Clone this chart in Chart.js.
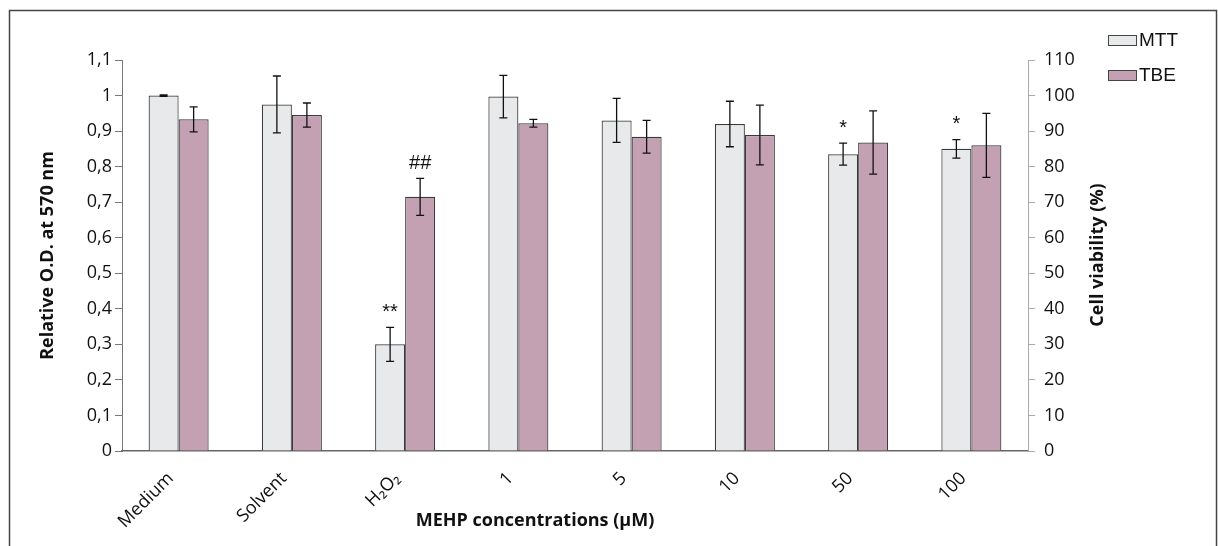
<!DOCTYPE html>
<html>
<head>
<meta charset="utf-8">
<title>MEHP concentrations</title>
<script src="https://cdn.jsdelivr.net/npm/chart.js@4.4.1/dist/chart.umd.min.js"></script>
<style>
    html, body { margin: 0; padding: 0; background: #fff; }
    #wrap { position: relative; width: 1218px; height: 546px; }
</style>
</head>
<body>
<div id="wrap"><canvas id="chart"></canvas></div>
<script>
const categories = ['Medium', 'Solvent', 'H₂O₂', '1', '5', '10', '50', '100'];

const mttValues = [1.0, 0.975, 0.30, 0.997, 0.93, 0.92, 0.835, 0.85];
const mttErrors = [0.002, 0.08, 0.048, 0.06, 0.062, 0.064, 0.031, 0.026];
const mttMarks = ['', '', '**', '', '', '', '*', '*'];

const tbeValues = [0.933, 0.945, 0.715, 0.922, 0.884, 0.889, 0.868, 0.86];
const tbeErrors = [0.035, 0.034, 0.052, 0.011, 0.046, 0.084, 0.089, 0.09];
const tbeMarks = ['', '', '##', '', '', '', '', ''];

const leftTicks = ['0', '0,1', '0,2', '0,3', '0,4', '0,5', '0,6', '0,7', '0,8', '0,9', '1', '1,1'];
const rightTicks = ['0', '10', '20', '30', '40', '50', '60', '70', '80', '90', '100', '110'];

const xTitle = 'MEHP concentrations (µM)';
const rightTitle = 'Cell viability (%)';

Chart.defaults.font.family = "'Open Sans', 'Noto Sans', sans-serif";
Chart.defaults.color = '#111';

// outer frame of the figure
const framePlugin = {
    id: 'frame',
    beforeDraw(chart) {
        const ctx = chart.ctx;
        ctx.save();
        ctx.strokeStyle = '#444';
        ctx.lineWidth = 1.5;
        ctx.strokeRect(9.5, 10.5, 1207, 600);
        ctx.restore();
    }
};

// error bars and significance marks on top of the bars
const errorBarPlugin = {
    id: 'errorBars',
    afterDatasetsDraw(chart) {
        const ctx = chart.ctx;
        const yScale = chart.scales.y;
        ctx.save();
        chart.data.datasets.forEach((ds, d) => {
            const meta = chart.getDatasetMeta(d);
            meta.data.forEach((bar, i) => {
                const v = ds.data[i];
                const e = ds.errors[i];
                const top = yScale.getPixelForValue(v + e);
                const bot = yScale.getPixelForValue(v - e);
                ctx.strokeStyle = '#111';
                ctx.lineWidth = 1.3;
                ctx.beginPath();
                ctx.moveTo(bar.x, top);
                ctx.lineTo(bar.x, bot);
                ctx.moveTo(bar.x - 4, top);
                ctx.lineTo(bar.x + 4, top);
                ctx.moveTo(bar.x - 4, bot);
                ctx.lineTo(bar.x + 4, bot);
                ctx.stroke();
                if (ds.marks[i]) {
                    ctx.fillStyle = '#111';
                    ctx.font = "20px 'Liberation Sans', sans-serif";
                    ctx.textAlign = 'center';
                    ctx.textBaseline = 'bottom';
                    ctx.fillText(ds.marks[i], bar.x, top - 5);
                }
            });
        });
        ctx.restore();
    }
};

// legend in the top right corner, plus the x and right axis titles
const extrasPlugin = {
    id: 'extras',
    afterDraw(chart) {
        const ctx = chart.ctx;
        ctx.save();
        chart.data.datasets.forEach((ds, d) => {
            const y = 35 + d * 35;
            ctx.fillStyle = ds.backgroundColor;
            ctx.fillRect(1108, y, 28, 10);
            ctx.strokeStyle = '#444';
            ctx.lineWidth = 1;
            ctx.strokeRect(1108.5, y + 0.5, 28, 10);
            ctx.fillStyle = '#111';
            ctx.font = "19px 'Liberation Sans', sans-serif";
            ctx.textAlign = 'left';
            ctx.textBaseline = 'middle';
            ctx.fillText(ds.label, 1139, y + 6);
        });

        ctx.fillStyle = '#111';
        ctx.font = "bold 18px 'Open Sans', 'Noto Sans', sans-serif";
        ctx.textAlign = 'center';
        ctx.textBaseline = 'middle';
        ctx.fillText(xTitle, 535, 521);

        ctx.translate(1098, 255);
        ctx.rotate(-Math.PI / 2);
        ctx.fillText(rightTitle, 0, 0);
        ctx.restore();
    }
};

new Chart(document.getElementById('chart'), {
    type: 'bar',
    data: {
        labels: categories,
        datasets: [
            {
                label: 'MTT',
                data: mttValues,
                errors: mttErrors,
                marks: mttMarks,
                backgroundColor: '#e8e9eb',
                borderColor: '#3a3a3a',
                borderWidth: 1.2,
                yAxisID: 'y'
            },
            {
                label: 'TBE',
                data: tbeValues,
                errors: tbeErrors,
                marks: tbeMarks,
                backgroundColor: '#c4a1b2',
                borderColor: '#3a3a3a',
                borderWidth: 1.2,
                yAxisID: 'y'
            }
        ]
    },
    options: {
        responsive: true,
        maintainAspectRatio: false,
        animation: false,
        categoryPercentage: 0.53,
        barPercentage: 1.0,
        layout: {
            padding: { left: 35, top: 60, right: 105, bottom: 11 }
        },
        plugins: {
            legend: { display: false },
            tooltip: { enabled: false }
        },
        scales: {
            x: {
                grid: { display: false },
                border: { display: true, color: '#666', width: 1.5 },
                ticks: {
                    maxRotation: 45,
                    minRotation: 45,
                    padding: 9,
                    labelOffset: -8,
                    font: { size: 18 },
                    color: '#111'
                },
                afterFit: function(scale) { scale.height = 84; }
            },
            y: {
                position: 'left',
                min: 0,
                max: 1.1,
                ticks: {
                    stepSize: 0.1,
                    padding: 3,
                    font: { size: 18 },
                    color: '#111',
                    callback: (v, i) => leftTicks[i]
                },
                grid: { drawOnChartArea: false, drawTicks: true, tickLength: 7, color: '#777' },
                border: { display: true, color: '#777' },
                title: {
                    display: true,
                    text: 'Relative O.D. at 570 nm',
                    font: { size: 18, weight: 'bold' },
                    color: '#111',
                    padding: { top: 2, bottom: 4 }
                },
                afterFit: function(scale) { scale.width = 87; }
            },
            y1: {
                position: 'right',
                min: 0,
                max: 110,
                ticks: {
                    stepSize: 10,
                    padding: 9,
                    font: { size: 18 },
                    color: '#111',
                    callback: (v, i) => rightTicks[i]
                },
                grid: { drawOnChartArea: false, drawTicks: true, tickLength: 7, color: '#aaa' },
                border: { display: true, color: '#aaa' },
                afterFit: function(scale) { scale.width = 85; }
            }
        }
    },
    plugins: [framePlugin, errorBarPlugin, extrasPlugin]
});
</script>
</body>
</html>
